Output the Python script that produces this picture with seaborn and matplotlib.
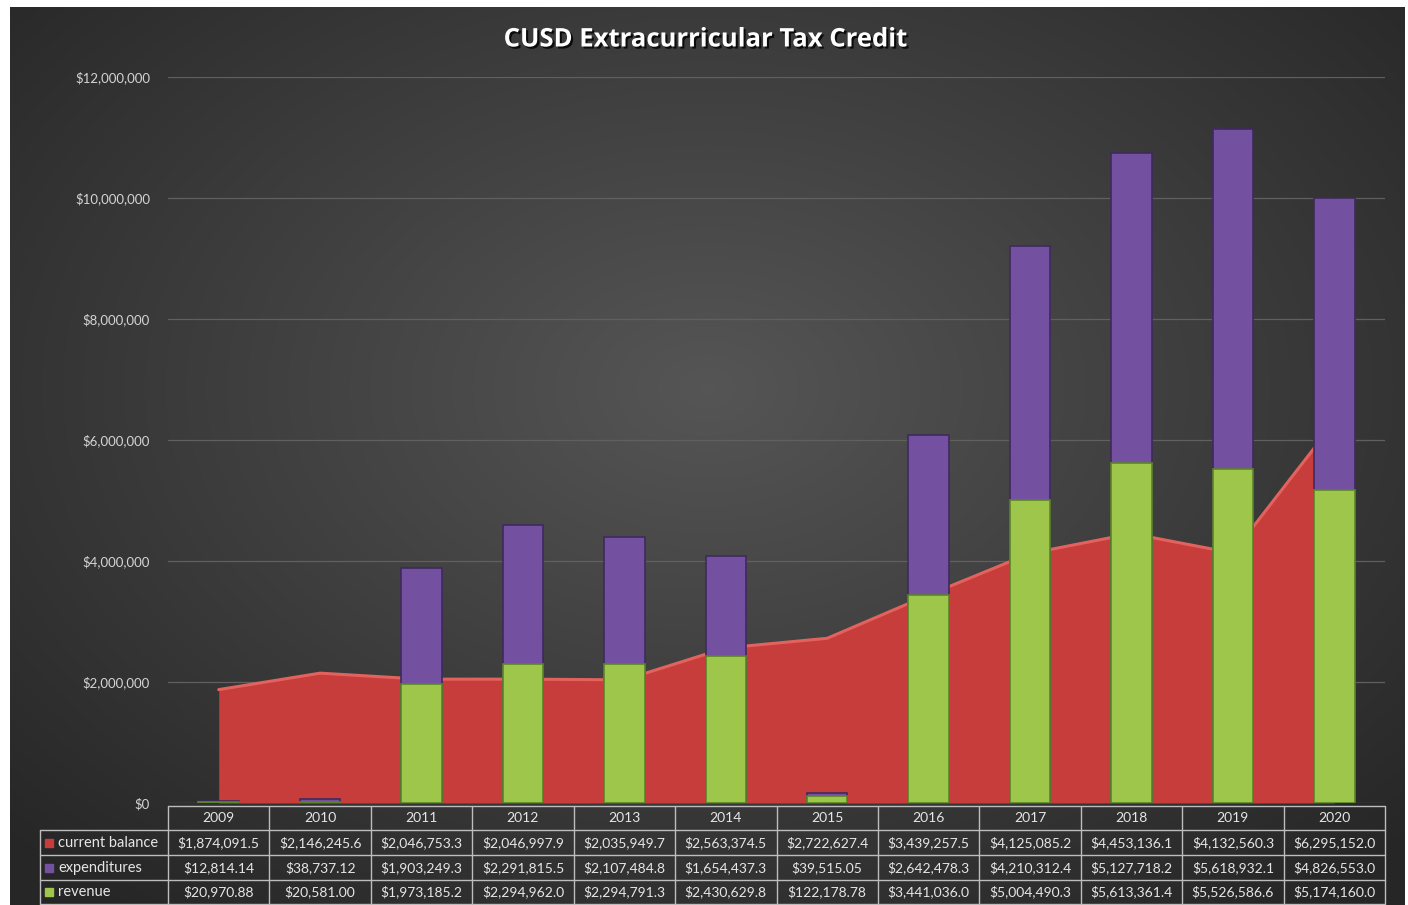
import numpy as np
import seaborn as sns
import matplotlib.pyplot as plt
import matplotlib.transforms as mtransforms
import matplotlib.patheffects as pe
from matplotlib.lines import Line2D
from matplotlib.ticker import FuncFormatter

years = [str(y) for y in range(2009, 2021)]
current_balance = [1874091.5, 2146245.6, 2046753.3, 2046997.9, 2035949.7, 2563374.5,
                   2722627.4, 3439257.5, 4125085.2, 4453136.1, 4132560.3, 6295152.0]
expenditures = [12814.14, 38737.12, 1903249.3, 2291815.5, 2107484.8, 1654437.3,
                39515.05, 2642478.3, 4210312.4, 5127718.2, 5618932.1, 4826553.0]
revenue = [20970.88, 20581.00, 1973185.2, 2294962.0, 2294791.3, 2430629.8,
           122178.78, 3441036.0, 5004490.3, 5613361.4, 5526586.6, 5174160.0]
row_names = ["current balance", "expenditures", "revenue"]

RED, PURPLE, GREEN = "#c63d3b", "#7350a0", "#9dc64a"
TXT = "#e6e6e6"
W, H = 1408, 905


def money_cell(v):
    s = f"${v:,.2f}"
    if len(s) > 12:
        s = f"${v:,.1f}"
    return s


sns.set_style("white")
plt.rcParams['font.family'] = ['Lato', 'DejaVu Sans']

fig = plt.figure(figsize=(W / 100, H / 100), dpi=100, facecolor="white")

# dark radial gradient behind the chart
bg = fig.add_axes([10 / W, 0, 1395 / W, 898 / H], zorder=-5)
gx, gy = np.meshgrid(np.linspace(-1, 1, 400), np.linspace(-1, 1, 300))
r = np.sqrt((gx * 0.95) ** 2 + ((gy + 0.15) * 0.9) ** 2)
shade = np.clip(0.335 - 0.14 * r, 0.15, 0.34)
bg.imshow(np.dstack([shade, shade, shade]), aspect="auto", extent=[0, 1, 0, 1])
bg.set_axis_off()

ax = fig.add_axes([168 / W, 1 - 803 / H, 1217 / W, 726 / H])
ax.set_facecolor("none")

x = np.arange(len(years))
ax.fill_between(x, current_balance, color=RED, zorder=1, linewidth=0)
ax.plot(x, current_balance, color="#e2625d", linewidth=2.2, zorder=1.1)

totals = np.array(revenue) + np.array(expenditures)
sns.barplot(x=years, y=totals, color=PURPLE, saturation=1, width=0.4, errorbar=None,
            edgecolor="#3f2a5e", linewidth=1.2, zorder=2, ax=ax)
sns.barplot(x=years, y=revenue, color=GREEN, saturation=1, width=0.4, errorbar=None,
            edgecolor="#5c8428", linewidth=1.2, zorder=3, ax=ax)

ax.set_xlim(-0.5, len(years) - 0.5)
ax.set_ylim(0, 12_000_000)
ax.set_yticks(np.arange(0, 12_000_001, 2_000_000))
ax.yaxis.set_major_formatter(FuncFormatter(lambda v, p: f"${v:,.0f}"))
ax.tick_params(axis="y", length=0, pad=13, labelsize=9.5, labelcolor="#d4d4d4")
ax.tick_params(axis="x", length=0, labelbottom=False)
ax.set_xlabel("")
ax.set_ylabel("")
ax.grid(axis="y", color="#606060", linewidth=0.9)
ax.set_axisbelow(True)
for s in ax.spines.values():
    s.set_visible(False)

fig.text(706 / W, 1 - 39 / H, "CUSD Extracurricular Tax Credit", ha="center", va="center",
         color="white", fontsize=18.5, fontweight="bold", family=["Open Sans", "DejaVu Sans"],
         path_effects=[pe.withSimplePatchShadow(offset=(1.5, -1.5), shadow_rgbFace="black", alpha=0.8)])

# data table underneath the plot
col_tr = mtransforms.blended_transform_factory(ax.transData, fig.transFigure)
rows_px = [806, 830, 855, 880, 904]
ry = [1 - p / H for p in rows_px]
lab_left, lab_right = 40 / W, 168 / W
grid_col = "#bdbdbd"

fig.add_artist(Line2D([lab_right, 1385 / W], [ry[0], ry[0]], color=grid_col, lw=1,
                      transform=fig.transFigure))
for yy in ry[1:]:
    fig.add_artist(Line2D([lab_left, 1385 / W], [yy, yy], color=grid_col, lw=1,
                          transform=fig.transFigure))
fig.add_artist(Line2D([lab_left, lab_left], [ry[1], ry[-1]], color=grid_col, lw=1,
                      transform=fig.transFigure))
for i in range(len(years) + 1):
    fig.add_artist(Line2D([i - 0.5, i - 0.5], [ry[0], ry[-1]], color=grid_col, lw=1,
                          transform=col_tr))

for i, yr in enumerate(years):
    fig.text(i, (ry[0] + ry[1]) / 2, yr, ha="center", va="center", color=TXT,
             fontsize=10, transform=col_tr)

series = [current_balance, expenditures, revenue]
keys = [RED, PURPLE, GREEN]
for k, (name, vals, kc) in enumerate(zip(row_names, series, keys)):
    yc = (ry[k + 1] + ry[k + 2]) / 2
    fig.add_artist(Line2D([49 / W], [yc], marker="s", markersize=5.5, color=kc,
                          transform=fig.transFigure))
    fig.text(58 / W, yc, name, ha="left", va="center", color=TXT, fontsize=10.5)
    for i, v in enumerate(vals):
        fig.text(i, yc, money_cell(v), ha="center", va="center", color=TXT,
                 fontsize=10, transform=col_tr)

fig.savefig("out.png", dpi=100, facecolor="white")
